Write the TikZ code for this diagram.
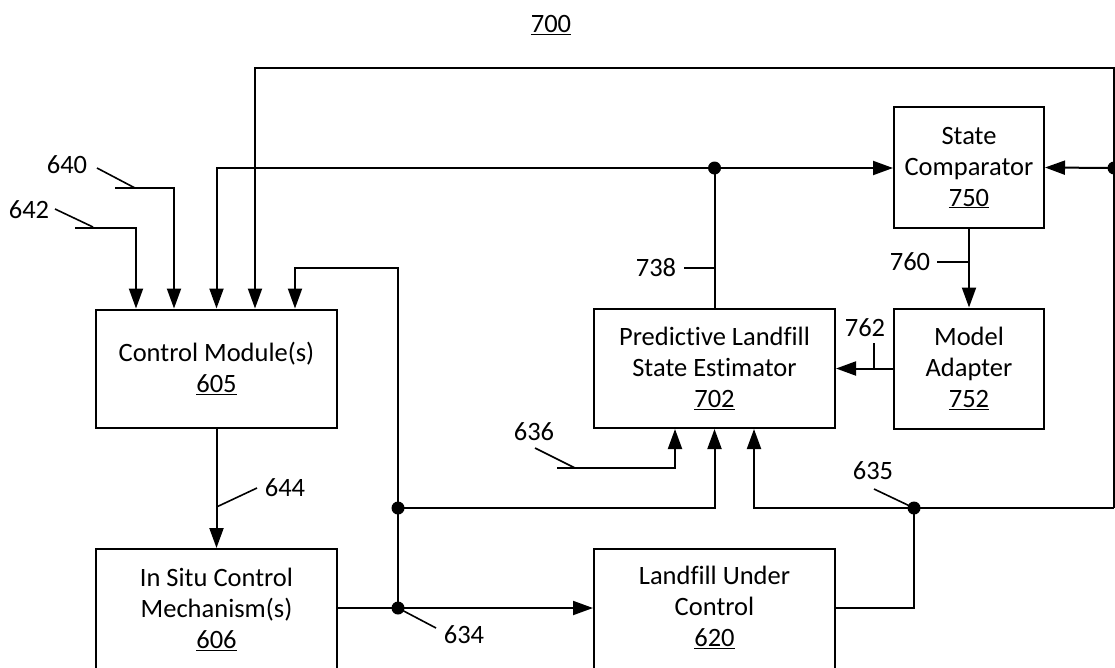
\documentclass[tikz,border=0pt]{standalone}
\usepackage{fontspec}
\setmainfont{Carlito}[Ligatures={NoCommon}]
\usetikzlibrary{arrows.meta}
\begin{document}
\begin{tikzpicture}[x=1pt,y=-1pt,
  box/.style={draw, line width=2pt, align=center, inner sep=0pt, font=\fontsize{26.5}{31}\selectfont},
  txt/.style={align=center, inner sep=0pt, font=\fontsize{26.5}{31}\selectfont},
  lbl/.style={inner sep=0pt, font=\fontsize{26.5}{31}\selectfont},
  wire/.style={line width=2pt},
  arr/.style={line width=2pt, -{Triangle[length=20pt,width=14pt]}},
  lead/.style={line width=1.6pt},
  dot/.style={fill=black}]
\useasboundingbox (0,0) rectangle (1115,667);
\clip (0,0) rectangle (1115,667);

% boxes
\node[box, minimum width=241pt, minimum height=118pt] (cm) at (216.5,368.5) {Control Module(s)\\\underline{605}};
\node[box, minimum width=241pt, minimum height=119pt] (est) at (714.5,368.5) {Predictive Landfill\\State Estimator\\\underline{702}};
\node[box, minimum width=150pt, minimum height=121pt] (sc) at (969,167.5) {State\\Comparator\\\underline{750}};
\node[box, minimum width=150pt, minimum height=120pt] (ma) at (969,368.5) {Model\\Adapter\\\underline{752}};
\node[box, minimum width=241pt, minimum height=180pt, anchor=north] (is) at (216.5,548) {};
\node[txt] (istxt) at (216.5,609) {In Situ Control\\Mechanism(s)\\\underline{606}};
\node[box, minimum width=241pt, minimum height=180pt, anchor=north] (lf) at (714.5,548) {};
\node[txt] (lftxt) at (714.5,607) {Landfill Under\\Control\\\underline{620}};

\node[lbl] (t700) at (551,25) {\underline{700}};

% coordinates
\coordinate (s642) at (75,228);
\coordinate (s640) at (115,188);
\coordinate (j738) at (714.5,168);
\coordinate (tr) at (1114,68);
\coordinate (br) at (1114,508);
\coordinate (jr) at (1114,168);
\coordinate (j635) at (914,508);
\coordinate (yout) at (0,608);
\coordinate (j634) at (398,608);
\coordinate (j508) at (398,508);
\coordinate (tp) at (398,268);
\coordinate (s636) at (557,468);

% connectors
\draw[arr] (s642) -| ([xshift=-80.5pt]cm.north);
\draw[arr] (s640) -| ([xshift=-42.5pt]cm.north);
\draw[wire] (est.north) -- (j738);
\draw[arr] (j738) -| (cm.north);
\draw[arr] (j738) -- (j738 -| sc.west);
\draw[arr] (br) -- (tr) -| ([xshift=38.5pt]cm.north);
\draw[arr] (jr) -- (sc.east);
\draw[arr] (br) -| ([xshift=39.5pt]est.south);
\draw[wire] (j635) |- (lf.east |- yout);
\draw[arr] (is.east |- yout) -- (lf.west |- yout);
\draw[arr] (j634) -- (tp) -| ([xshift=78.5pt]cm.north);
\draw[arr] (j508) -| (est.south);
\draw[arr] (s636) -| ([xshift=-39.5pt]est.south);
\draw[arr] (ma.west) -- (est.east);
\draw[arr] (sc.south) -- (ma.north);
\draw[arr] (cm.south) -- (is.north);

% junction dots
\foreach \p in {j738,jr,j635,j634,j508} \fill[dot] (\p) circle (6.5);

% labels and leaders
\node[lbl] (l640) at (67,165) {640};
\draw[lead] (97,168) -- (135,188);
\node[lbl] (l642) at (29,210) {642};
\draw[lead] (55,209) -- (93,227);
\node[lbl] (l738) at (656,268) {738};
\draw[lead] (684,268) -- (714.5,268);
\node[lbl] (l760) at (910,262) {760};
\draw[lead] (937,262) -- (969,262);
\node[lbl] (l762) at (865,328) {762};
\draw[lead] (874,343) -- (874,368.5);
\node[lbl] (l636) at (534,432) {636};
\draw[lead] (535,448) -- (575,468);
\node[lbl] (l634) at (464,635) {634};
\draw[lead] (j634) -- (436,628);
\node[lbl] (l635) at (873,471) {635};
\draw[lead] (874,489) -- (j635);
\node[lbl] (l644) at (285,488) {644};
\draw[lead] (216.5,507) -- (257,488);
\end{tikzpicture}
\end{document}
